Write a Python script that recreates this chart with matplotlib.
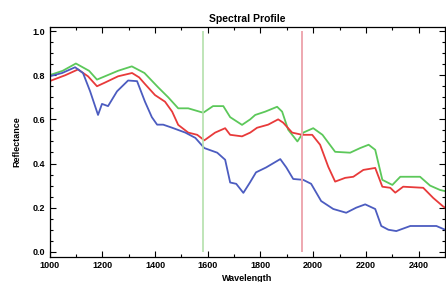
import matplotlib.pyplot as plt
from matplotlib.ticker import MultipleLocator

# Spectral profile values
green_wl = [1000, 1050, 1100, 1150, 1180, 1220, 1260, 1312, 1360, 1412, 1450, 1488,
            1526, 1583, 1620, 1659, 1685, 1730, 1761, 1780, 1818, 1863, 1882, 1905,
            1940, 1962, 2000, 2035, 2083, 2140, 2178, 2210, 2235, 2262, 2300, 2330,
            2405, 2443, 2481, 2500]
green_r = [0.80, 0.82, 0.853, 0.82, 0.78, 0.80, 0.82, 0.84, 0.81, 0.745, 0.70, 0.65,
           0.65, 0.63, 0.66, 0.66, 0.61, 0.575, 0.60, 0.62, 0.635, 0.657, 0.635, 0.553,
           0.50, 0.54, 0.56, 0.53, 0.453, 0.449, 0.47, 0.485, 0.462, 0.326, 0.303, 0.34,
           0.34, 0.30, 0.28, 0.275]

red_wl = [1000, 1060, 1108, 1146, 1180, 1211, 1260, 1313, 1340, 1362, 1400, 1438,
          1465, 1488, 1526, 1560, 1587, 1628, 1666, 1685, 1730, 1761, 1787, 1829,
          1867, 1886, 1920, 1958, 1996, 2026, 2057, 2083, 2121, 2152, 2190, 2235,
          2262, 2292, 2311, 2341, 2417, 2455, 2493, 2500]
red_r = [0.773, 0.80, 0.826, 0.795, 0.75, 0.767, 0.795, 0.81, 0.79, 0.76, 0.71, 0.68,
         0.635, 0.575, 0.54, 0.53, 0.505, 0.54, 0.56, 0.53, 0.523, 0.54, 0.562, 0.576,
         0.60, 0.585, 0.54, 0.53, 0.53, 0.485, 0.385, 0.318, 0.335, 0.34, 0.371, 0.38,
         0.295, 0.29, 0.268, 0.295, 0.29, 0.244, 0.205, 0.20]

blue_wl = [1000, 1048, 1097, 1127, 1154, 1184, 1199, 1222, 1256, 1298, 1332, 1362,
           1388, 1408, 1431, 1465, 1515, 1553, 1587, 1636, 1666, 1685, 1708, 1735,
           1760, 1783, 1821, 1875, 1898, 1924, 1962, 1992, 2030, 2076, 2125, 2163,
           2197, 2235, 2258, 2285, 2315, 2368, 2417, 2467, 2500]
blue_r = [0.795, 0.81, 0.836, 0.81, 0.727, 0.62, 0.67, 0.66, 0.727, 0.776, 0.773, 0.68,
          0.61, 0.576, 0.576, 0.562, 0.54, 0.516, 0.47, 0.449, 0.417, 0.314, 0.308, 0.267,
          0.314, 0.36, 0.382, 0.42, 0.382, 0.33, 0.326, 0.308, 0.23, 0.194, 0.177, 0.20,
          0.215, 0.194, 0.117, 0.10, 0.094, 0.117, 0.117, 0.117, 0.10]

# Marker positions of the two vertical lines
green_marker = 1583
red_marker = 1958

plt.rcParams['font.family'] = ['Liberation Sans', 'DejaVu Sans']
plt.rcParams['font.weight'] = 'bold'

fig = plt.figure(figsize=(4.46, 2.82), dpi=100)
ax = fig.add_axes([0.111, 0.089, 0.887, 0.815])

ax.plot(green_wl, green_r, color='#5cc85a', linewidth=1.3)
ax.plot(red_wl, red_r, color='#e83a3a', linewidth=1.3)
ax.plot(blue_wl, blue_r, color='#4c5cc0', linewidth=1.3)

ax.vlines(green_marker, 0.0, 1.0, color='#b4e0ac', linewidth=1.2)
ax.vlines(red_marker, 0.0, 1.0, color='#eea8b0', linewidth=1.4)

ax.set_xlim(1000, 2500)
ax.set_ylim(-0.023, 1.018)
ax.xaxis.set_major_locator(MultipleLocator(200))
ax.xaxis.set_minor_locator(MultipleLocator(100))
ax.yaxis.set_major_locator(MultipleLocator(0.2))
ax.yaxis.set_minor_locator(MultipleLocator(0.05))
ax.yaxis.set_major_formatter(plt.FormatStrFormatter('%.1f'))
ax.tick_params(which='both', direction='in', top=True, right=True,
               labelsize=6.5, pad=3, width=0.8)
ax.tick_params(which='major', length=4)
ax.tick_params(which='minor', length=2)
for s in ax.spines.values():
    s.set_linewidth(0.9)

ax.set_title('Spectral Profile', fontsize=7.5, fontweight='bold', pad=4)
ax.set_xlabel('Wavelength', fontsize=6.5, fontweight='bold', labelpad=3)
ax.set_ylabel('Reflectance', fontsize=6.5, fontweight='bold', labelpad=8)

fig.savefig('out.png', dpi=100)
